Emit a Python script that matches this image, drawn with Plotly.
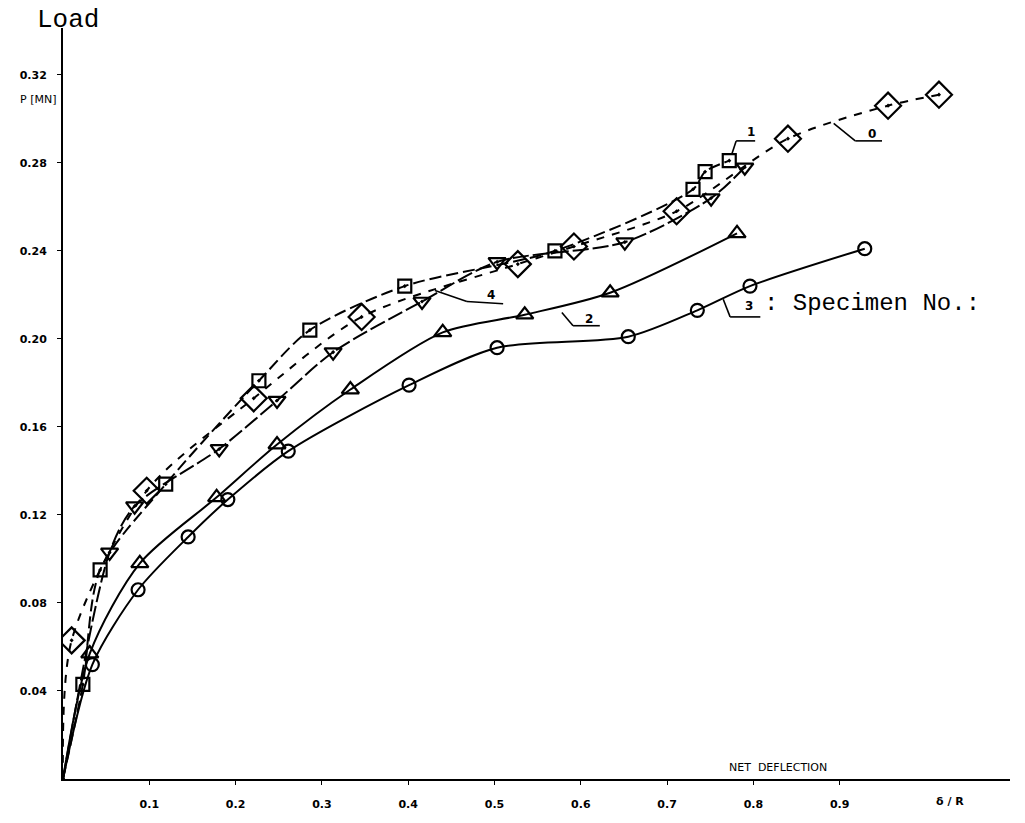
import plotly.graph_objects as go

# ---- data (delta/R, P in MN) ----
s0_x = [0.0, 0.010, 0.097, 0.221, 0.346, 0.527, 0.592, 0.711, 0.840, 0.956, 1.015]
s0_y = [0.0, 0.063, 0.131, 0.173, 0.210, 0.234, 0.242, 0.258, 0.291, 0.306, 0.311]

s1_x = [0.0, 0.023, 0.043, 0.119, 0.227, 0.286, 0.396, 0.570, 0.730, 0.744, 0.772]
s1_y = [0.0, 0.043, 0.095, 0.134, 0.181, 0.204, 0.224, 0.240, 0.268, 0.276, 0.281]

s4_x = [0.0, 0.054, 0.083, 0.181, 0.248, 0.313, 0.416, 0.503, 0.651, 0.751, 0.790]
s4_y = [0.0, 0.103, 0.124, 0.150, 0.172, 0.194, 0.217, 0.235, 0.244, 0.264, 0.278]

s2_x = [0.0, 0.031, 0.089, 0.178, 0.248, 0.333, 0.440, 0.535, 0.634, 0.781]
s2_y = [0.0, 0.057, 0.098, 0.128, 0.152, 0.177, 0.203, 0.211, 0.221, 0.248]

s3_x = [0.0, 0.034, 0.087, 0.145, 0.191, 0.261, 0.401, 0.503, 0.655, 0.735, 0.796, 0.929]
s3_y = [0.0, 0.052, 0.086, 0.110, 0.127, 0.149, 0.179, 0.196, 0.201, 0.213, 0.224, 0.241]

y_ticks = [0.04, 0.08, 0.12, 0.16, 0.20, 0.24, 0.28, 0.32]
y_labels = ["0.04", "0.08", "0.12", "0.16", "0.20", "0.24", "0.28", "0.32"]
x_ticks = [0.1, 0.2, 0.3, 0.4, 0.5, 0.6, 0.7, 0.8, 0.9]
x_labels = ["0.1", "0.2", "0.3", "0.4", "0.5", "0.6", "0.7", "0.8", "0.9"]

# curve labels: (text, text_x, text_y, leader path points)
labels = [
    ("0", 0.937, 0.293, [(0.893, 0.298), (0.918, 0.290), (0.949, 0.290)]),
    ("1", 0.797, 0.294, [(0.775, 0.284), (0.780, 0.290), (0.802, 0.290)]),
    ("4", 0.496, 0.220, [(0.431, 0.222), (0.468, 0.217), (0.510, 0.216)]),
    ("2", 0.610, 0.209, [(0.578, 0.212), (0.591, 0.206), (0.622, 0.206)]),
    ("3", 0.795, 0.215, [(0.765, 0.218), (0.773, 0.210), (0.808, 0.210)]),
]

BLACK = "#000000"
W, H = 1025, 823
L, R, T, B = 63, 15, 28, 41
fig = go.Figure()


def sizes(xs, s):
    return [0 if x == 0.0 else s for x in xs]


def add(xs, ys, symbol, size, dash):
    fig.add_trace(go.Scatter(
        x=xs, y=ys, mode="lines+markers",
        line=dict(color=BLACK, width=2, dash=dash, shape="spline", smoothing=0.8),
        marker=dict(symbol=symbol, size=sizes(xs, size), color=BLACK, opacity=1,
                    line=dict(color=BLACK, width=2.2)),
        showlegend=False, hoverinfo="skip"))


add(s0_x, s0_y, "diamond-open-dot", 20, "8px,8px")
add(s1_x, s1_y, "square-open-dot", 13, "12px,5px")
add(s4_x, s4_y, "triangle-down-open-dot", 15, "16px,4px")
add(s2_x, s2_y, "triangle-up-open", 15, "solid")
add(s3_x, s3_y, "circle-open", 13, "solid")

shapes = []
ann = []
for txt, tx, ty, path in labels:
    for (xa, ya), (xb, yb) in zip(path[:-1], path[1:]):
        shapes.append(dict(type="line", xref="x", yref="y", x0=xa, y0=ya, x1=xb, y1=yb,
                           line=dict(color=BLACK, width=1.6)))
    ann.append(dict(x=tx, y=ty, xref="x", yref="y", text=txt, showarrow=False,
                    xanchor="center", yanchor="middle",
                    font=dict(family="DejaVu Sans", size=12, color=BLACK, weight="bold")))


def px(x, y):
    return (x - L) / (W - L - R), (H - B - y) / (H - T - B)


def pann(x, y, text, family, size, xanchor="center", bold=False):
    xp, yp = px(x, y)
    f = dict(family=family, size=size, color=BLACK)
    if bold:
        f["weight"] = "bold"
    ann.append(dict(x=xp, y=yp, xref="paper", yref="paper", text=text, showarrow=False,
                    xanchor=xanchor, yanchor="middle", font=f))


pann(68, 20, "Load", "Liberation Mono", 26)
pann(762, 305, ": Specimen No.:", "Liberation Mono", 24, xanchor="left")
pann(38, 100, "P [MN]", "DejaVu Sans", 11)
pann(778, 770, "NET  DEFLECTION", "DejaVu Sans", 11)
pann(950, 805, "δ / R", "DejaVu Sans", 11, bold=True)

tf = dict(family="DejaVu Sans", size=11, color=BLACK, weight="bold")
fig.update_layout(
    width=W, height=H,
    margin=dict(l=L, r=R, t=T, b=B),
    paper_bgcolor="white", plot_bgcolor="white",
    shapes=shapes, annotations=ann,
    xaxis=dict(range=[0, 1.0973], showgrid=False, zeroline=False,
               showline=True, linecolor=BLACK, linewidth=2,
               tickvals=x_ticks, ticktext=x_labels, ticks="outside", ticklen=4,
               tickcolor=BLACK, ticklabelstandoff=10, tickfont=tf),
    yaxis=dict(range=[0, 0.3413], showgrid=False, zeroline=False,
               showline=True, linecolor=BLACK, linewidth=2,
               tickvals=y_ticks, ticktext=y_labels, ticks="outside", ticklen=4,
               tickcolor=BLACK, ticklabelstandoff=8, tickfont=tf),
)

fig.write_html("out.html", config={"displayModeBar": False},
               post_script="document.body.style.margin='0';document.body.style.overflow='hidden';")
